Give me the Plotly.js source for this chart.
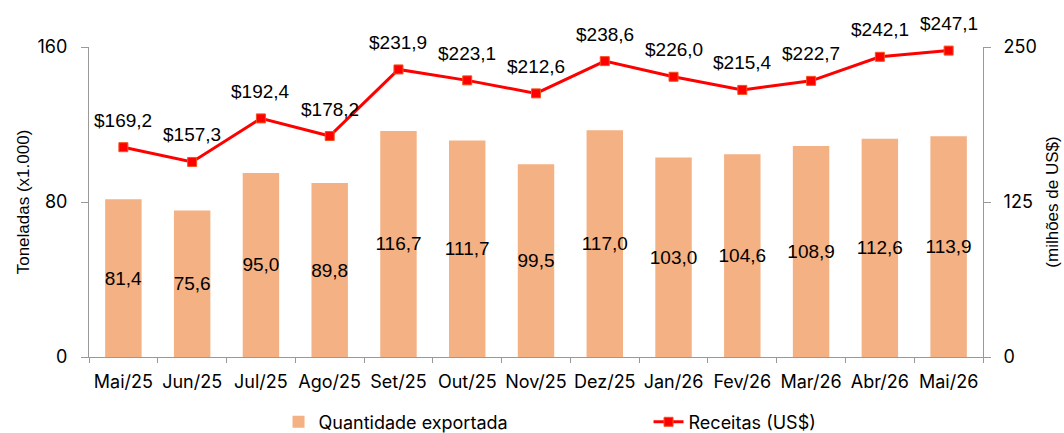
<!DOCTYPE html>
<html><head><meta charset="utf-8">
<script src="https://cdn.plot.ly/plotly-3.0.1.min.js"></script>
<style>body{margin:0;background:#fff}#c{width:1064px;height:433px}</style>
</head><body><div id="c"></div>
<script>
const months = ["Mai/25","Jun/25","Jul/25","Ago/25","Set/25","Out/25","Nov/25","Dez/25","Jan/26","Fev/26","Mar/26","Abr/26","Mai/26"];
const quantidade = [81.4,75.6,95.0,89.8,116.7,111.7,99.5,117.0,103.0,104.6,108.9,112.6,113.9];
const receitas = [169.2,157.3,192.4,178.2,231.9,223.1,212.6,238.6,226.0,215.4,222.7,242.1,247.1];
const fmt = v => v.toFixed(1).replace('.', ',');
const tickFont = {family: "Inter, 'Noto Sans', sans-serif", size: 18, color: '#000'};
const titleFont = {family: "'Liberation Sans', Arial, sans-serif", size: 17, color: '#000'};
const labelFont = {family: "'Liberation Sans', Arial, sans-serif", size: 19, color: '#000'};
const traces = [
  {type:'bar', x: months, y: quantidade, name:'Quantidade exportada',
   marker:{color:'#F4B183'}, text: quantidade.map(fmt), textposition:'inside', textangle:0,
   constraintext:'none', insidetextanchor:'middle', textfont: labelFont, hoverinfo:'none'},
  {type:'scatter', mode:'lines+markers', x: months, y: receitas, yaxis:'y2', cliponaxis:false,
   name:'Receitas (US$)', line:{color:'#FF0000', width:3},
   marker:{symbol:'square', size:9, color:'#FF0000', line:{color:'#F4511E', width:1}},
   hoverinfo:'none'}
];
const annotations = months.map((m, i) => ({
  x: m, y: receitas[i], xref:'x', yref:'y2', text: '$' + fmt(receitas[i]),
  showarrow:false, yshift:27, xanchor:'center', yanchor:'middle', font: labelFont
}));
const layout = {
  width:1064, height:433, margin:{l:89, r:81, t:47, b:76, autoexpand:false},
  paper_bgcolor:'#fff', plot_bgcolor:'#fff', bargap:0.47, showlegend:true, annotations,
  legend:{orientation:'h', x:0.212, xanchor:'left', y:-0.21, yanchor:'middle', font: tickFont, traceorder:'normal', entrywidth:325},
  xaxis:{range:[-0.5, months.length - 0.5], tickfont:tickFont, tickangle:0, ticklabelstandoff:8, showline:true, linecolor:'#999', linewidth:1, ticks:'outside', tickson:'boundaries', ticklen:5, tickcolor:'#999', showgrid:false, zeroline:false},
  yaxis:{range:[0,160], tickvals:[0,80,160], tickfont:tickFont, showline:true, linecolor:'#999', ticks:'outside', ticklen:7, ticklabelstandoff:10, tickcolor:'#999', showgrid:false, zeroline:false,
    title:{text:'Toneladas (x1.000)', font:titleFont, standoff:3}},
  yaxis2:{range:[0,250], tickvals:[0,125,250], overlaying:'y', side:'right', tickfont:tickFont, showline:true, linecolor:'#999', ticks:'outside', ticklen:7, ticklabelstandoff:9, tickcolor:'#999', showgrid:false, zeroline:false,
    title:{text:'(milhões de US$)', font:titleFont, standoff:10}}
};
Plotly.newPlot('c', traces, layout, {displayModeBar:false, staticPlot:true});
</script></body></html>
